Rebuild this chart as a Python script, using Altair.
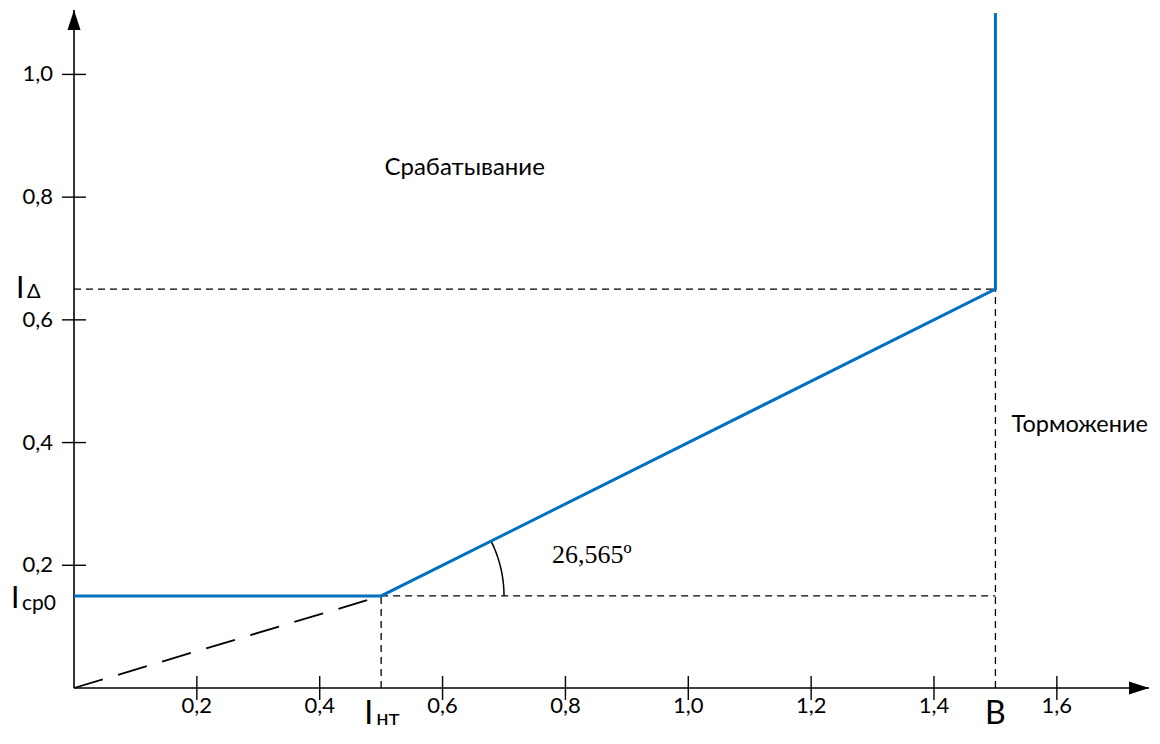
import altair as alt
import pandas as pd
import numpy as np

# ---- data ----
x_ticks = [0.2, 0.4, 0.6, 0.8, 1.0, 1.2, 1.4, 1.6]
x_tick_labels = ["0,2", "0,4", "0,6", "0,8", "1,0", "1,2", "1,4", "1,6"]
y_ticks = [0.2, 0.4, 0.6, 0.8, 1.0]
y_tick_labels = ["0,2", "0,4", "0,6", "0,8", "1,0"]

char_x = [0.0, 0.5, 1.5, 1.5]
char_y = [0.15, 0.15, 0.65, 1.10]

I_cp0 = 0.15
I_nt = 0.5
B = 1.5
I_delta = 0.65
angle_deg = 26.565
arc_radius = 0.2

X_MAX = 1.75
Y_MAX = 1.105

BLUE = "#0070C0"
FONT = "Lato"

xs = alt.Scale(domain=[0, X_MAX], nice=False, zero=False)
ys = alt.Scale(domain=[0, Y_MAX], nice=False, zero=False)

def X(field="x"):
    return alt.X(f"{field}:Q", scale=xs, axis=None)

def Y(field="y"):
    return alt.Y(f"{field}:Q", scale=ys, axis=None)

# axes lines
axes_df = pd.DataFrame({"x": [0, 0], "y": [0, 0], "x2": [X_MAX, 0], "y2": [0, Y_MAX]})
axes = alt.Chart(axes_df).mark_rule(color="black", strokeWidth=1.6).encode(
    x=X(), y=Y(), x2="x2:Q", y2="y2:Q")

# arrows
arr_up = alt.Chart(pd.DataFrame({"x": [0], "y": [Y_MAX]})).mark_point(
    shape="M0,-1L0.65,1L-0.65,1Z", size=400, filled=True, color="black", opacity=1,
    yOffset=10).encode(x=X(), y=Y())
arr_right = alt.Chart(pd.DataFrame({"x": [X_MAX], "y": [0]})).mark_point(
    shape="M1,0L-1,0.65L-1,-0.65Z", size=400, filled=True, color="black", opacity=1,
    xOffset=-10).encode(x=X(), y=Y())

# ticks crossing axes
xt_df = pd.DataFrame({"x": x_ticks, "label": x_tick_labels, "y": 0})
yt_df = pd.DataFrame({"y": y_ticks, "label": y_tick_labels, "x": 0})
x_tick_marks = alt.Chart(xt_df).mark_rule(color="black", strokeWidth=1.4, yOffset=-12, y2Offset=12).encode(
    x=X(), y=Y(), y2="y:Q")
y_tick_marks = alt.Chart(yt_df).mark_rule(color="black", strokeWidth=1.4, xOffset=-12, x2Offset=12).encode(
    x=X(), y=Y(), x2="x:Q")
x_tick_text = alt.Chart(xt_df).mark_text(font=FONT, fontSize=22, dy=18, baseline="middle", align="center",
                                          color="black").encode(x=X(), y=Y(), text="label:N")
y_tick_text = alt.Chart(yt_df).mark_text(font=FONT, fontSize=22, dx=-21, baseline="middle", align="right",
                                          color="black").encode(x=X(), y=Y(), text="label:N")

# dashed guide lines
dash_df = pd.DataFrame({
    "x": [0, B, I_nt, I_nt],
    "y": [I_delta, 0, 0, I_cp0],
    "x2": [B, B, I_nt, B],
    "y2": [I_delta, I_delta, I_cp0, I_cp0],
})
dashes = alt.Chart(dash_df).mark_rule(color="black", strokeWidth=1.3, strokeDash=[7, 5]).encode(
    x=X(), y=Y(), x2="x2:Q", y2="y2:Q")

long_dash = alt.Chart(pd.DataFrame({"x": [0], "y": [0], "x2": [I_nt], "y2": [I_cp0]})).mark_rule(
    color="black", strokeWidth=1.8, strokeDash=[30, 16]).encode(x=X(), y=Y(), x2="x2:Q", y2="y2:Q")

# characteristic
char_df = pd.DataFrame({"x": char_x, "y": char_y, "o": list(range(len(char_x)))})
char_line = alt.Chart(char_df).mark_line(color=BLUE, strokeWidth=3).encode(
    x=X(), y=Y(), order="o:Q")

# angle arc
theta = np.radians(np.linspace(0, angle_deg, 30))
arc_df = pd.DataFrame({"x": I_nt + arc_radius * np.cos(theta),
                       "y": I_cp0 + arc_radius * np.sin(theta),
                       "o": np.arange(30)})
arc = alt.Chart(arc_df).mark_line(color="black", strokeWidth=1.5).encode(x=X(), y=Y(), order="o:Q")

# labels
def txt(x, y, s, size, dx=0, dy=0, align="left", font=FONT, baseline="middle"):
    return alt.Chart(pd.DataFrame({"x": [x], "y": [y], "t": [s]})).mark_text(
        font=font, fontSize=size, dx=dx, dy=dy, align=align, baseline=baseline, color="black"
    ).encode(x=X(), y=Y(), text="t:N")

labels = [
    txt(0, I_delta, "I", 30, dx=-58, dy=0),
    txt(0, I_delta, "Δ", 20, dx=-47, dy=3),
    txt(0, I_cp0, "I", 30, dx=-63, dy=3),
    txt(0, I_cp0, "ср0", 21, dx=-52, dy=8),
    txt(I_nt, 0, "I", 32, dx=-17, dy=26),
    txt(I_nt, 0, "нт", 22, dx=-5, dy=30),
    txt(B, 0, "B", 32, dx=0, dy=26, align="center"),
    txt(0.636, 0.847, "Срабатывание", 24, align="center"),
    txt(1.526, 0.4285, "Торможение", 23.5, align="left"),
    txt(0.778, 0.217, "26,565º", 26, font="Liberation Serif"),
]

chart = alt.layer(
    dashes, long_dash, axes, x_tick_marks, y_tick_marks, arc, char_line,
    arr_up, arr_right, x_tick_text, y_tick_text, *labels
).properties(
    width=1075, height=678,
    padding={"left": 66, "top": 2, "right": 3, "bottom": 48},
    autosize="none",
).configure_view(stroke=None)

chart.save("out.html", embed_options={"renderer": "svg", "actions": False})
